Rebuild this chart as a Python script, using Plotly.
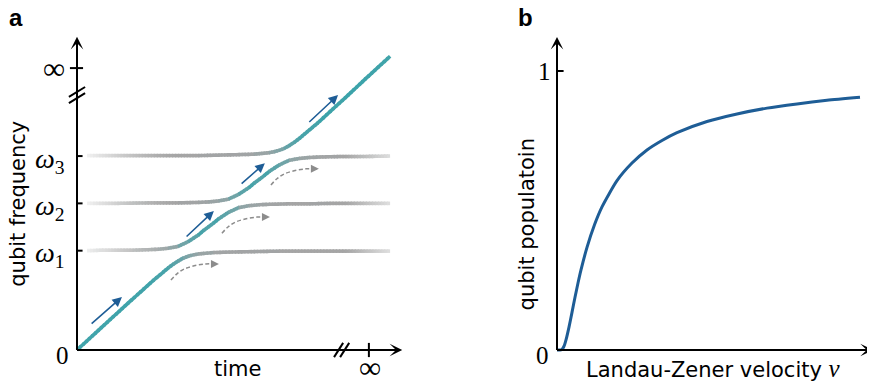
import plotly.graph_objects as go

# ---------------- data: panel a (Landau-Zener ladder) ----------------
omega_levels = [2.1, 3.1, 4.1]
omega_labels = ["<i>ω</i><sub>1</sub>", "<i>ω</i><sub>2</sub>", "<i>ω</i><sub>3</sub>"]
inf_label = "∞"
zero_label = "0"

# eigen-branches (time, frequency)
branch_A_t = [0.0, 1.0, 1.5, 1.7, 1.8, 1.9, 2.0, 2.1, 2.2, 2.3, 2.4, 2.5, 2.7, 3.0, 3.5, 4.0, 4.5, 5.0, 5.5, 6.2]
branch_A_f = [0.00, 0.98, 1.46, 1.64, 1.73, 1.81, 1.88, 1.94, 1.98, 2.01, 2.03, 2.04, 2.06, 2.07, 2.08, 2.09, 2.09, 2.09, 2.09, 2.09]

branch_B_t = [0.2, 0.5, 0.8, 1.1, 1.4, 1.6, 1.7, 1.8, 1.9, 2.0, 2.1, 2.2, 2.3, 2.4, 2.5, 2.6, 2.7, 2.8,
              2.9, 3.0, 3.1, 3.2, 3.3, 3.4, 3.5, 3.6, 3.8, 4.2, 4.6, 5.0, 5.6, 6.2]
branch_B_f = [2.10, 2.11, 2.11, 2.11, 2.12, 2.13, 2.14, 2.15, 2.17, 2.19, 2.24, 2.29, 2.36, 2.43, 2.52, 2.60, 2.68, 2.77,
              2.84, 2.91, 2.96, 3.01, 3.03, 3.05, 3.06, 3.07, 3.08, 3.09, 3.09, 3.10, 3.10, 3.10]

branch_C_t = [0.2, 0.8, 1.4, 2.0, 2.4, 2.6, 2.7, 2.8, 2.9, 3.0, 3.1, 3.2, 3.3, 3.4, 3.5, 3.6, 3.7, 3.8,
              3.9, 4.0, 4.1, 4.2, 4.3, 4.4, 4.5, 4.6, 4.8, 5.2, 5.6, 6.2]
branch_C_f = [3.10, 3.10, 3.11, 3.11, 3.12, 3.13, 3.14, 3.15, 3.17, 3.19, 3.24, 3.29, 3.36, 3.43, 3.52, 3.60, 3.68, 3.77,
              3.84, 3.91, 3.96, 4.01, 4.03, 4.05, 4.06, 4.07, 4.08, 4.09, 4.09, 4.10]

branch_D_t = [0.2, 0.8, 1.4, 2.0, 2.4, 2.8, 3.2, 3.5, 3.6, 3.7, 3.8, 3.9, 4.0, 4.1, 4.2, 4.3, 4.4, 4.5,
              4.6, 4.7, 4.8, 5.0, 5.3, 5.7, 6.2]
branch_D_f = [4.11, 4.11, 4.11, 4.11, 4.11, 4.12, 4.13, 4.14, 4.15, 4.16, 4.17, 4.19, 4.22, 4.26, 4.32, 4.39, 4.47, 4.56,
              4.65, 4.74, 4.83, 5.03, 5.32, 5.72, 6.21]

# sweep arrows (tail t, tail f, head t, head f)
sweep_arrows = [(0.26, 0.53, 0.89, 1.12), (2.14, 2.37, 2.71, 2.94),
                (3.23, 3.49, 3.72, 3.95), (4.57, 4.79, 5.17, 5.39)]
# dashed "diabatic" arrow shape (relative offsets) and start points
dash_dt = [0.0, 0.12, 0.26, 0.46, 0.69, 0.95]
dash_df = [0.0, 0.13, 0.23, 0.30, 0.34, 0.34]
dash_starts = [(1.86, 1.48), (2.87, 2.47), (3.84, 3.49)]

# ---------------- data: panel b ----------------
lz_velocity = [0, 0.1, 0.15, 0.2, 0.25, 0.3, 0.4, 0.5, 0.6, 0.7, 0.8, 1.0, 1.25, 1.5, 2.0, 2.5,
               3.0, 3.5, 4.0, 5.0, 6.0, 7.0, 8.0, 9.0, 10.1]
qubit_population = [0.0, 0.0, 0.001, 0.007, 0.018, 0.036, 0.082, 0.135, 0.189, 0.240, 0.287, 0.368, 0.449,
                    0.513, 0.607, 0.670, 0.717, 0.751, 0.779, 0.819, 0.846, 0.867, 0.882, 0.895, 0.906]

# ---------------- styling ----------------
W, H = 875, 384
OFF = 8  # default page margin of the html body
GRAY = (165, 165, 165)
TEAL = (60, 163, 170)
WHITE = (255, 255, 255)
BLUE = "rgb(30,93,150)"
DGRAY = "rgb(140,140,140)"
SANS = "DejaVu Sans"
SERIF = "Liberation Serif"

fig = go.Figure()


def mix(c1, c2, w):
    return tuple(c1[i] * (1 - w) + c2[i] * w for i in range(3))


def fade_amount(t):
    a = 0.0
    if t < 2.0:
        a = max(a, 0.85 * ((2.0 - t) / 1.8) ** 1.4)
    if t > 5.3:
        a = max(a, 0.65 * ((t - 5.3) / 0.9))
    return min(a, 0.9)


def draw_branch(ts, fs):
    last = len(ts) - 2
    for i in range(len(ts) - 1):
        t0, t1, f0, f1 = ts[i], ts[i + 1], fs[i], fs[i + 1]
        s = max(0.0, min(1.0, (f1 - f0) / (t1 - t0)))
        n = max(1, int(round((t1 - t0) / 0.06)))
        for k in range(n):
            ta = t0 + (t1 - t0) * k / n
            tb = t0 + (t1 - t0) * (k + 1) / n
            fa = f0 + (f1 - f0) * k / n
            fb = f0 + (f1 - f0) * (k + 1) / n
            tm = 0.5 * (ta + tb)
            # slight overlap with the next piece hides antialiasing seams
            ext = 0.0 if (i == last and k == n - 1) else 0.4
            te = tb + ext * (tb - ta)
            fe = fb + ext * (fb - fa)
            col = mix(mix(GRAY, TEAL, s), WHITE, (1 - s) * fade_amount(tm))
            fig.add_trace(go.Scatter(
                x=[ta, te], y=[fa, fe], mode="lines",
                line=dict(color="rgb(%d,%d,%d)" % col, width=3.6),
                hoverinfo="skip", xaxis="x", yaxis="y"))


for ts, fs in [(branch_A_t, branch_A_f), (branch_B_t, branch_B_f),
               (branch_C_t, branch_C_f), (branch_D_t, branch_D_f)]:
    draw_branch(ts, fs)

# dashed curved arrows
annotations = []
for (t0, f0) in dash_starts:
    xs = [t0 + d for d in dash_dt]
    ys = [f0 + d for d in dash_df]
    fig.add_trace(go.Scatter(x=xs[:-1] + [xs[-1] - 0.1], y=ys[:-1] + [ys[-1]], mode="lines",
                             line=dict(color=DGRAY, width=1.5, dash="4px,2.5px", shape="spline"),
                             hoverinfo="skip", xaxis="x", yaxis="y"))
    annotations.append(dict(x=xs[-1], y=ys[-1], ax=xs[-1] - 0.12, ay=ys[-1], xref="x", yref="y",
                            axref="x", ayref="y", text="", showarrow=True, arrowhead=2,
                            arrowsize=1.0, arrowwidth=1.6, arrowcolor=DGRAY, standoff=0))

# sweep arrows
for (ta, fa, tb, fb) in sweep_arrows:
    annotations.append(dict(x=tb, y=fb, ax=ta, ay=fa, xref="x", yref="y", axref="x", ayref="y",
                            text="", showarrow=True, arrowhead=2, arrowsize=1.2, arrowwidth=1.6,
                            arrowcolor=BLUE, standoff=0))

# panel b curve
fig.add_trace(go.Scatter(x=lz_velocity, y=qubit_population, mode="lines",
                         line=dict(color=BLUE, width=3, shape="spline", smoothing=0.6),
                         hoverinfo="skip", xaxis="x2", yaxis="y2"))

# ---------------- axes (drawn as arrows) ----------------
A_TOP, A_RIGHT = 6.62, 6.44
B_TOP, B_RIGHT = 1.122, 10.53
for (x, y, ax, ay, xr, yr) in [(0, A_TOP, 0, -0.03, "x", "y"), (A_RIGHT, 0, -0.03, 0, "x", "y"),
                               (0, B_TOP, 0, -0.005, "x2", "y2"), (B_RIGHT, 0, -0.05, 0, "x2", "y2")]:
    annotations.append(dict(x=x, y=y, ax=ax, ay=ay, xref=xr, yref=yr, axref=xr, ayref=yr, text="",
                            showarrow=True, arrowhead=3, arrowsize=1.05, arrowwidth=2,
                            arrowcolor="black", standoff=0))

shapes = []


def seg(x0, y0, x1, y1, xr="x", yr="y", w=2):
    shapes.append(dict(type="line", x0=x0, y0=y0, x1=x1, y1=y1, xref=xr, yref=yr,
                       line=dict(color="black", width=w)))


INF_F = 5.96
INF_T = 5.78
for lv in omega_levels:
    seg(0, lv, 0.11, lv)
seg(-0.14, INF_F, 0.12, INF_F)
seg(-0.16, 5.35, 0.16, 5.56)
seg(-0.16, 5.22, 0.16, 5.43)
seg(5.09, -0.15, 5.27, 0.15)
seg(5.21, -0.15, 5.39, 0.15)
seg(INF_T, -0.15, INF_T, 0.15)
seg(0, 1, 0.22, 1, "x2", "y2")

MATH = dict(family=SERIF, size=25, color="black")
OMEGA = dict(family=SERIF, size=28, color="black")
INF = dict(family=SERIF, size=31, color="black")
LBL = dict(family=SANS, size=21, color="black")


def text(x, y, s, font, xr="x", yr="y", xanchor="center", yanchor="middle", angle=0, yshift=0):
    annotations.append(dict(x=x, y=y, xref=xr, yref=yr, text=s, showarrow=False, font=font,
                            xanchor=xanchor, yanchor=yanchor, textangle=angle, yshift=yshift))


for lv, lab in zip(omega_levels, omega_labels):
    text(-0.2, lv, lab, OMEGA, xanchor="right", yshift=-4)
text(-0.46, INF_F, inf_label, INF)
text(-0.28, -0.11, zero_label, MATH)
text(INF_T + 0.02, -0.36, inf_label, INF)
text(3.17, -0.40, "time", LBL)
text(-1.17, 3.09, "qubit frequency", LBL, angle=-90)

text(-0.43, 1.0, "1", MATH, "x2", "y2")
text(-0.47, -0.018, "0", MATH, "x2", "y2")
text(-1.0, 0.45, "qubit populatoin", LBL, "x2", "y2", angle=-90)
text(5.2, -0.068, "Landau-Zener velocity <span style='font-family:Liberation Serif;font-size:25px'><i>v</i></span>",
     LBL, "x2", "y2")

annotations.append(dict(x=(16 - OFF) / W, y=1 - (17 - OFF) / H, xref="paper", yref="paper", text="<b>a</b>",
                        xanchor="center", yanchor="middle", showarrow=False,
                        font=dict(family="Liberation Sans", size=24, color="black")))
annotations.append(dict(x=(525 - OFF) / W, y=1 - (18 - OFF) / H, xref="paper", yref="paper", text="<b>b</b>",
                        xanchor="center", yanchor="middle", showarrow=False,
                        font=dict(family="Liberation Sans", size=24, color="black")))

# pixel calibration of the (hidden) axes; the html body adds an OFF-pixel margin
x0a, y0a, x0b = 77 - OFF, 350 - OFF, 557 - OFF
ax_a = dict(visible=False, domain=[0, 1], range=[-x0a / 50.5, (W - x0a) / 50.5])
ay_a = dict(visible=False, domain=[0, 1], range=[-(H - y0a) / 47.3, y0a / 47.3])
ax_b = dict(visible=False, domain=[0, 1], range=[-x0b / 30, (W - x0b) / 30], overlaying="x", anchor="y2")
ay_b = dict(visible=False, domain=[0, 1], range=[-(H - y0a) / 279, y0a / 279], overlaying="y", anchor="x2")

fig.update_layout(width=W, height=H, margin=dict(l=0, r=0, t=0, b=0),
                  paper_bgcolor="white", plot_bgcolor="white", showlegend=False,
                  xaxis=ax_a, yaxis=ay_a, xaxis2=ax_b, yaxis2=ay_b,
                  annotations=annotations, shapes=shapes, hovermode=False)

fig.write_html("out.html", config={"displayModeBar": False, "staticPlot": True})
